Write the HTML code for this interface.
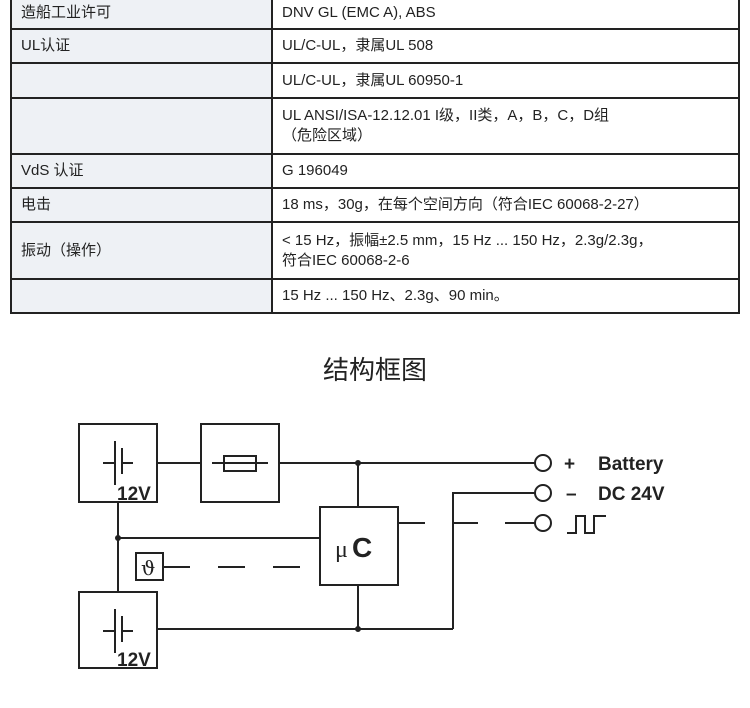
<!DOCTYPE html>
<html><head><meta charset="utf-8"><style>
body{margin:0;width:750px;height:708px;background:#fff;position:relative;overflow:hidden;font-family:"Liberation Sans","Noto Sans CJK SC",sans-serif;color:#222}
table{position:absolute;left:10px;top:-5px;border-collapse:collapse;width:730px;font-size:15px}
td{border:2px solid #222;padding:3px 9px;vertical-align:middle;line-height:20px}
td.l{background:#eef1f5;width:241px}
</style></head><body>
<table>
<tr style="height:33px"><td class="l">造船工业许可</td><td>DNV GL (EMC A), ABS</td></tr>
<tr style="height:34px"><td class="l">UL认证</td><td>UL/C-UL，隶属UL 508</td></tr>
<tr style="height:35px"><td class="l"></td><td>UL/C-UL，隶属UL 60950-1</td></tr>
<tr style="height:56px"><td class="l"></td><td>UL ANSI/ISA-12.12.01 I级，II类，A，B，C，D组<br>（危险区域）</td></tr>
<tr style="height:34px"><td class="l">VdS 认证</td><td>G 196049</td></tr>
<tr style="height:34px"><td class="l">电击</td><td>18 ms，30g，在每个空间方向（符合IEC 60068-2-27）</td></tr>
<tr style="height:57px"><td class="l">振动（操作）</td><td>&lt; 15 Hz，振幅±2.5 mm，15 Hz ... 150 Hz，2.3g/2.3g，<br>符合IEC 60068-2-6</td></tr>
<tr style="height:34px"><td class="l"></td><td>15 Hz ... 150 Hz、2.3g、90 min。</td></tr>
</table>
<div style="position:absolute;left:0;width:750px;top:350px;text-align:center;font-size:26px;color:#222">结构框图</div>
<svg width="750" height="708" style="position:absolute;left:0;top:0" fill="none" stroke="#222" stroke-width="2">
<rect x="79" y="424" width="78" height="78"/>
<rect x="201" y="424" width="78" height="78"/>
<rect x="320" y="507" width="78" height="78"/>
<rect x="79" y="592" width="78" height="76"/>
<line x1="115" y1="441" x2="115" y2="485"/><line x1="122" y1="448" x2="122" y2="474"/>
<line x1="103" y1="463" x2="115" y2="463"/><line x1="122" y1="463" x2="133" y2="463"/>
<line x1="115" y1="609" x2="115" y2="653"/><line x1="122" y1="616" x2="122" y2="642"/>
<line x1="103" y1="631" x2="115" y2="631"/><line x1="122" y1="631" x2="133" y2="631"/>
<rect x="224" y="456" width="32" height="15"/><line x1="212" y1="463" x2="268" y2="463"/>
<line x1="157" y1="463" x2="201" y2="463"/>
<line x1="279" y1="463" x2="535" y2="463"/>
<line x1="358" y1="463" x2="358" y2="507"/>
<line x1="157" y1="629" x2="453" y2="629"/>
<line x1="358" y1="585" x2="358" y2="629"/>
<polyline points="453,629 453,493 535,493"/>
<line x1="118" y1="502" x2="118" y2="592"/>
<line x1="118" y1="538" x2="320" y2="538"/>
<rect x="136" y="553" width="27" height="27"/>
<line x1="163" y1="567" x2="190" y2="567"/><line x1="218" y1="567" x2="245" y2="567"/><line x1="273" y1="567" x2="300" y2="567"/>
<line x1="398" y1="523" x2="425" y2="523"/><line x1="453" y1="523" x2="478" y2="523"/><line x1="505" y1="523" x2="535" y2="523"/>
<circle cx="543" cy="463" r="8"/><circle cx="543" cy="493" r="8"/><circle cx="543" cy="523" r="8"/>
<polyline points="567,533 576,533 576,516 585,516 585,533 594,533 594,516 606,516"/>
<circle cx="358" cy="463" r="2" fill="#222"/><circle cx="358" cy="629" r="2" fill="#222"/><circle cx="118" cy="538" r="2" fill="#222"/>
<g stroke="none" fill="#222" font-family="Liberation Sans, sans-serif" font-weight="bold">
<text x="117" y="500" font-size="19">12V</text>
<text x="117" y="666" font-size="19">12V</text>
<text x="564" y="470" font-size="19">+</text>
<text x="566" y="500" font-size="19">–</text>
<text x="598" y="470" font-size="19">Battery</text>
<text x="598" y="500" font-size="19">DC 24V</text>
<text x="352" y="557" font-size="28">C</text>
</g>
<text x="335" y="557" font-size="24" fill="#222" stroke="none" font-family="Liberation Serif, serif">μ</text>
<text x="141" y="575" font-size="20" fill="#222" stroke="none" font-family="DejaVu Serif, serif">ϑ</text>
</svg>
</body></html>
